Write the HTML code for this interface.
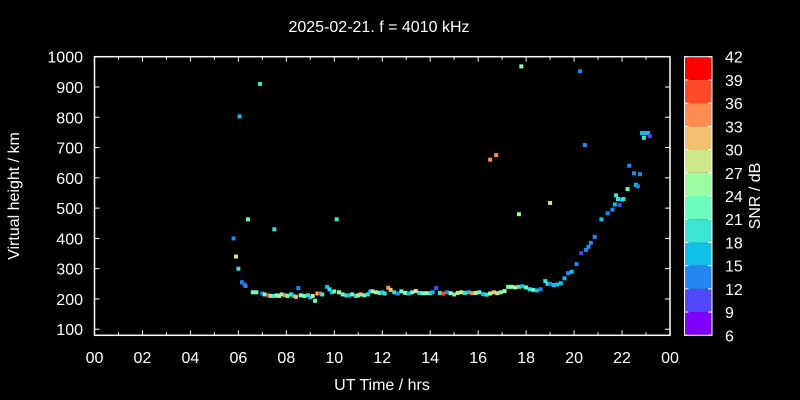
<!DOCTYPE html>
<html><head><meta charset="utf-8"><style>
body{margin:0;background:#000;}
svg{display:block;font-family:"Liberation Sans",sans-serif;}
</style></head><body>
<svg id="c" width="800" height="400" xmlns="http://www.w3.org/2000/svg">
<rect width="800" height="400" fill="#000"/>
<text x="379" y="32" fill="#fff" font-size="16" text-anchor="middle">2025-02-21. f = 4010 kHz</text>
<text x="382" y="390" fill="#fff" font-size="16" text-anchor="middle">UT Time / hrs</text>
<text transform="translate(19,196) rotate(-90)" fill="#fff" font-size="16" text-anchor="middle">Virtual height / km</text>
<text transform="translate(760,196) rotate(-90)" fill="#fff" font-size="16" text-anchor="middle">SNR / dB</text>
<g id="axes"></g><g id="pts"></g><g id="cbar"></g>
</svg>
<script>
const times=[5.8,5.9,6.0,6.05,6.15,6.25,6.3,6.4,6.9,7.5,
10.1,16.5,16.75,17.7,17.8,19.0,20.25,20.45,6.6,6.75,
7.0,7.1,7.25,7.35,7.5,7.6,7.7,7.8,7.95,8.05,
8.2,8.3,8.4,8.5,8.6,8.75,8.9,9.0,9.1,9.2,
9.3,9.4,9.5,9.7,9.8,9.9,10.0,10.2,10.35,10.5,
10.6,10.75,10.9,11.0,11.1,11.25,11.4,11.5,11.6,11.75,
11.9,12.0,12.1,12.25,12.35,12.5,12.65,12.8,12.95,13.1,
13.25,13.4,13.55,13.7,13.85,14.0,14.1,14.25,14.4,14.55,
14.7,14.85,15.0,15.15,15.3,15.45,15.6,15.75,15.9,16.05,
16.2,16.35,16.5,16.65,16.8,16.95,17.1,17.25,17.4,17.55,
17.7,17.85,18.0,18.15,18.3,18.45,18.6,18.8,18.9,19.0,
19.15,19.3,19.45,19.6,19.75,19.9,20.1,20.3,20.5,20.6,
20.7,20.86,21.14,21.4,21.6,21.7,21.75,21.83,21.9,22.0,
22.06,22.23,22.3,22.5,22.58,22.66,22.75,22.83,22.91,23.0,
23.08,23.16];
const heights=[400,340,300,803,255,248,243,463,910,430,
463,660,675,480,968,517,952,708,222,222,
218,215,212,210,210,212,210,215,212,210,
215,210,207,236,212,210,212,205,210,194,
218,218,215,240,232,222,225,222,215,212,
212,215,210,212,215,212,215,225,225,222,
220,222,218,237,230,222,218,225,220,218,
222,226,220,219,219,219,222,236,220,218,
222,219,215,220,222,220,222,219,220,222,
216,214,218,222,219,222,226,240,240,238,
240,242,238,232,230,228,232,259,250,250,
246,248,252,268,285,290,315,351,362,372,
385,405,463,483,495,512,542,530,510,528,
530,563,640,615,577,572,612,748,732,748,
748,738];
const snrs=[12,27,18,15,12,9,12,21,18,18,
18,33,33,24,24,27,12,12,21,21,
12,21,36,21,18,24,24,24,33,21,
18,15,30,12,24,21,18,15,27,21,
30,36,18,15,18,15,21,24,21,18,
15,21,18,24,30,21,18,15,27,24,
21,15,18,33,30,18,12,21,24,15,
21,27,18,21,24,18,15,9,18,36,
12,24,21,27,24,18,15,33,24,21,
15,18,24,30,27,21,24,21,24,27,
18,15,21,18,21,15,12,18,18,12,
15,15,15,15,12,15,12,9,12,12,
12,12,15,12,12,15,18,18,9,15,
18,21,12,12,15,12,12,15,18,15,
15,9];
const cbTicks=[6,9,12,15,18,21,24,27,30,33,36,39,42];
const cbColors=["#8000ff","#5048f8","#2288f0","#10c0e8","#3ce4d6","#6cfcbc","#9cfca2","#cce888","#f2c070","#ff8c50","#ff4a2a","#ff0000"];
const yTicks=[100,200,300,400,500,600,700,800,900,1000];
const xTickLabels=["00","02","04","06","08","10","12","14","16","18","20","22","00"];

const L=94.5,R=670,T=56.7,B=335.3,Y0=80,Y1=1000;
const xs=t=>L+(R-L)*t/24;
const ys=h=>B-(B-T)*(h-Y0)/(Y1-Y0);
const NS="http://www.w3.org/2000/svg";
function mk(tag,a,p){const e=document.createElementNS(NS,tag);for(const k in a)e.setAttribute(k,a[k]);p.appendChild(e);return e;}
const ax=document.getElementById('axes');
const fr=mk('rect',{x:L,y:T,width:R-L,height:B-T,fill:'none',stroke:'#fff','stroke-width':1.5},ax);


for(let hr=0;hr<=24;hr++){
  const x=xs(hr),len=hr%2==0?5:3;
  mk('line',{x1:x,x2:x,y1:B,y2:B-len,stroke:'#fff'},ax);
  mk('line',{x1:x,x2:x,y1:T,y2:T+len,stroke:'#fff'},ax);
}
xTickLabels.forEach((s,i)=>{
  const t=mk('text',{x:xs(i*2),y:363,fill:'#fff','font-size':16,'text-anchor':'middle'},ax);t.textContent=s;
  
  
});
yTicks.forEach(v=>{
  const y=ys(v);
  mk('line',{x1:L,x2:L+5,y1:y,y2:y,stroke:'#fff'},ax);
  mk('line',{x1:R,x2:R-5,y1:y,y2:y,stroke:'#fff'},ax);
  const t=mk('text',{x:83,y:y+6,fill:'#fff','font-size':16,'text-anchor':'end'},ax);t.textContent=v;
  
  
});
function col(s){let i=Math.floor((s-6)/3);if(i<0)i=0;if(i>11)i=11;return cbColors[i];}
const pg=document.getElementById('pts');
times.forEach((t,i)=>{
  if(heights[i]===undefined)return;
  const r=mk('rect',{x:xs(t)-2,y:ys(heights[i])-2,width:4,height:4,fill:col(snrs[i])},pg);
  
  
});
const cb=document.getElementById('cbar');
const CL=684.5,CR=712,cy=v=>B-(B-T)*(v-6)/36;
cbColors.forEach((c,i)=>{
  const r=mk('rect',{x:CL,y:cy(cbTicks[i+1]),width:CR-CL,height:cy(cbTicks[i])-cy(cbTicks[i+1]),fill:c},cb);
  
  
});
const cf=mk('rect',{x:CL,y:T,width:CR-CL,height:B-T,fill:'none',stroke:'#fff','stroke-width':1},cb);


cbTicks.forEach(v=>{
  const y=cy(v);
  mk('line',{x1:CR-4,x2:CR,y1:y,y2:y,stroke:'#fff'},cb);
  mk('line',{x1:CL,x2:CL+4,y1:y,y2:y,stroke:'#fff'},cb);
  const t=mk('text',{x:725,y:y+6,fill:'#fff','font-size':16},cb);t.textContent=v;
  
  
});
</script>
</body></html>
